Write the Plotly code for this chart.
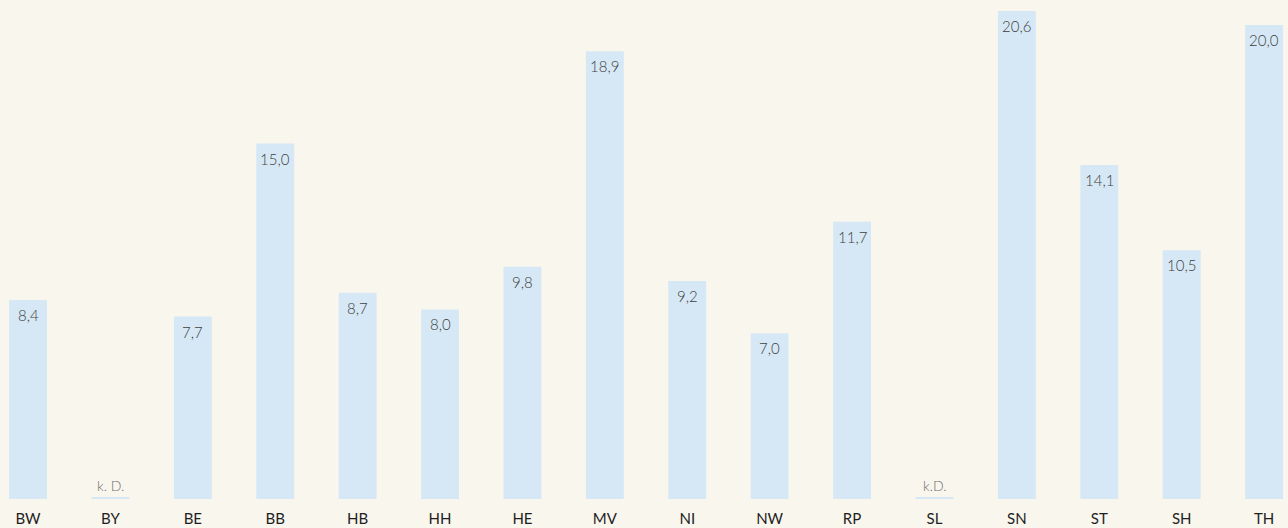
import plotly.graph_objects as go

categories = ["BW", "BY", "BE", "BB", "HB", "HH", "HE", "MV", "NI", "NW", "RP", "SL", "SN", "ST", "SH", "TH"]
values = [8.4, None, 7.7, 15.0, 8.7, 8.0, 9.8, 18.9, 9.2, 7.0, 11.7, None, 20.6, 14.1, 10.5, 20.0]
nodata_labels = {"BY": "k. D.", "SL": "k.D."}

BG = "#f9f6ee"
BAR = "#d6e8f5"

def fmt(v):
    return f"{v:.1f}".replace(".", ",")

fig = go.Figure()
fig.add_trace(go.Bar(
    x=categories, y=values, width=0.46, marker=dict(color=BAR, line=dict(width=0)),
    hoverinfo="skip", showlegend=False,
))
# thin baseline marker for categories without data
nd_x = [c for c, v in zip(categories, values) if v is None]
fig.add_trace(go.Bar(
    x=nd_x, y=[0.045] * len(nd_x), width=0.46, marker=dict(color=BAR, line=dict(width=0)),
    hoverinfo="skip", showlegend=False,
))

annotations = []
for c, v in zip(categories, values):
    if v is None:
        annotations.append(dict(x=c, y=0, text=nodata_labels[c], showarrow=False, yanchor="bottom",
                                yshift=3, font=dict(family="Lato", size=14, color="#6f6f6f", weight=300)))
    else:
        annotations.append(dict(x=c, y=v, text=fmt(v), showarrow=False, yanchor="middle",
                                yshift=-15, font=dict(family="Lato", size=15, color="#404040", weight=300)))

fig.update_layout(
    width=1288, height=528,
    margin=dict(l=0, r=0, t=0, b=29),
    paper_bgcolor=BG, plot_bgcolor=BG,
    barmode="overlay",
    annotations=annotations,
    xaxis=dict(type="category", range=[-0.34, 15.29], showgrid=False, zeroline=False, showline=False,
               ticks="", ticklabelstandoff=9,
               tickfont=dict(family="Lato", size=15, color="#1e1e1e")),
    yaxis=dict(range=[0, 21.06], visible=False, showgrid=False, zeroline=False),
)

fig.write_html("out.html", config={"displayModeBar": False},
               post_script="document.body.style.margin='0';document.body.style.background='" + BG + "';")
